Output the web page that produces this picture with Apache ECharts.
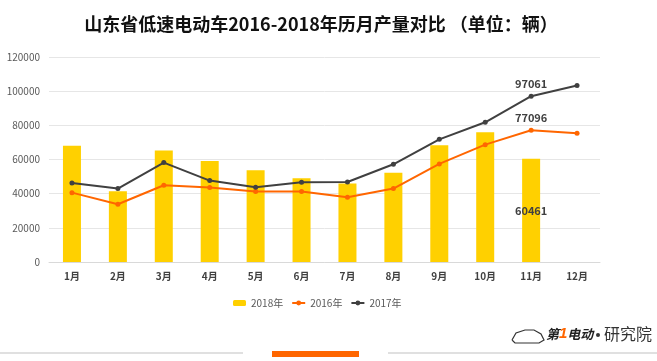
<!DOCTYPE html>
<html><head><meta charset="utf-8">
<script src="https://cdn.jsdelivr.net/npm/echarts@6/dist/echarts.min.js"></script>
<style>html,body{margin:0;padding:0;background:#fff}#c{width:657px;height:361px}</style>
</head><body><div id="c"></div>
<script>
const categories = ['1月','2月','3月','4月','5月','6月','7月','8月','9月','10月','11月','12月'];
const yTicks = [0, 20000, 40000, 60000, 80000, 100000, 120000];
const s2018 = [68000, 41400, 65200, 59100, 53700, 49000, 45900, 52300, 68300, 75900, 60461, null];
const s2016 = [40600, 33800, 44900, 43550, 41200, 41300, 37900, 43000, 57400, 68700, 77096, 75350];
const s2017 = [46200, 43000, 58200, 47650, 43700, 46650, 46800, 57200, 71800, 81800, 97061, 103300];
const labelIndex = 10;

const FONT = '"Noto Sans CJK SC", "Noto Sans", sans-serif';
function withLabel(arr, pos, dist) {
  return arr.map((v, i) => i === labelIndex ? {
    value: v,
    label: { show: true, position: pos, distance: dist, color: '#404040', fontSize: 11, fontWeight: 'bold', fontFamily: FONT, formatter: '{c}' }
  } : v);
}

const chart = echarts.init(document.getElementById('c'));
chart.setOption({
  animation: false,
  backgroundColor: '#fff',
  title: {
    text: '山东省低速电动车2016-2018年历月产量对比 （单位：辆）',
    left: 316, top: 10, textAlign: 'center',
    textStyle: { fontSize: 18, fontWeight: 'bold', color: '#111', fontFamily: FONT }
  },
  legend: {
    data: ['2018年', '2016年', '2017年'],
    left: 228, top: 293, itemWidth: 13, itemHeight: 6, itemGap: 8,
    textStyle: { fontSize: 10, color: '#595959', fontFamily: FONT }
  },
  grid: { left: 49, right: 57, top: 57, bottom: 99 },
  xAxis: {
    type: 'category', data: categories,
    axisLine: { lineStyle: { color: '#d9d9d9' } },
    axisTick: { show: false },
    axisLabel: { color: '#404040', fontSize: 10, fontWeight: 'bold', fontFamily: FONT, margin: 9 }
  },
  yAxis: {
    type: 'value', min: yTicks[0], max: yTicks[yTicks.length - 1], interval: yTicks[1] - yTicks[0],
    axisLine: { show: false }, axisTick: { show: false },
    axisLabel: { color: '#595959', fontSize: 10, fontFamily: FONT, margin: 9, formatter: v => String(v) },
    splitLine: { lineStyle: { color: '#e6e6e6' } }
  },
  series: [
    { name: '2018年', type: 'bar', data: withLabel(s2018, 'inside', 5), barWidth: 18,
      itemStyle: { color: '#FFD000' } },
    { name: '2016年', type: 'line', data: withLabel(s2016, 'top', 4), symbol: 'circle', symbolSize: 5,
      lineStyle: { color: '#FF6600', width: 2 }, itemStyle: { color: '#FF6600' } },
    { name: '2017年', type: 'line', data: withLabel(s2017, 'top', 4), symbol: 'circle', symbolSize: 5,
      lineStyle: { color: '#404040', width: 2 }, itemStyle: { color: '#404040' } }
  ],
  graphic: [
    { type: 'rect', shape: { x: 0, y: 352, width: 243, height: 2 }, style: { fill: '#e0e0e0' } },
    { type: 'rect', shape: { x: 388, y: 352, width: 269, height: 2 }, style: { fill: '#e0e0e0' } },
    { type: 'rect', shape: { x: 272, y: 351, width: 87, height: 6 }, style: { fill: '#FF6600' } },
    { type: 'polyline', shape: { points: [[512,340],[516,333],[525,330],[534,330],[541,334],[544,340],[539,343],[515,343],[512,340]] },
      style: { stroke: '#333', fill: 'none', lineWidth: 1.2 } },
    { type: 'text', x: 546, y: 334, style: {
        text: '第{o|1}电动', fill: '#222', fontSize: 13, fontWeight: 'bold', fontStyle: 'italic', fontFamily: FONT,
        textVerticalAlign: 'middle', verticalAlign: 'middle',
        rich: { o: { fill: '#FF6600', fontSize: 15, fontWeight: 'bold', fontStyle: 'italic' } } } },
    { type: 'circle', shape: { cx: 598, cy: 335, r: 2 }, style: { fill: '#333' } },
    { type: 'text', x: 652, y: 334, style: { text: '研究院', fill: '#333', fontSize: 16, fontFamily: FONT,
        align: 'right', textAlign: 'right', verticalAlign: 'middle', textVerticalAlign: 'middle' } }
  ]
});
</script></body></html>
